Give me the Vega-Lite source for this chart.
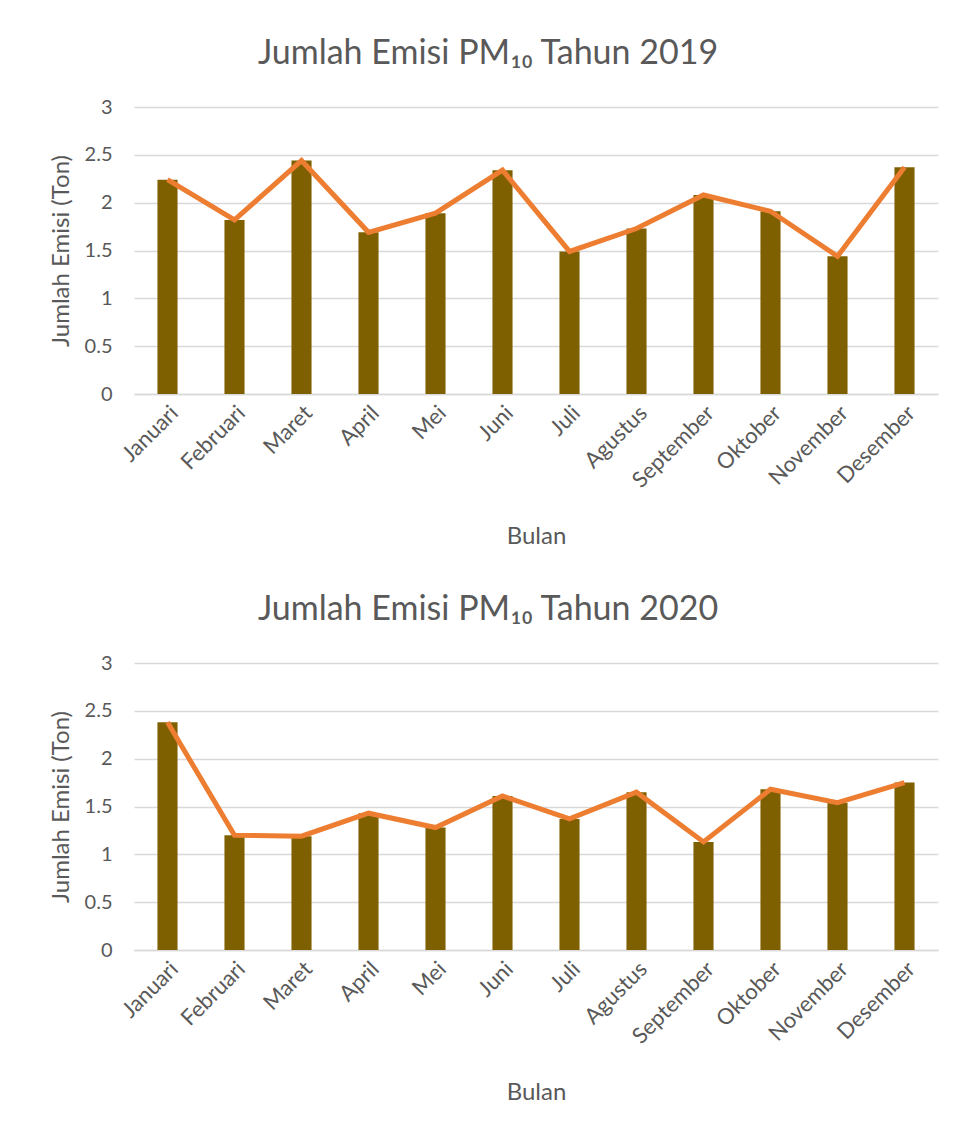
{
  "$schema": "https://vega.github.io/schema/vega-lite/v6.json",
  "background": "white",
  "padding": {"left": 49, "top": 37, "right": 5, "bottom": 5},
  "config": {
    "font": "Lato",
    "view": {"stroke": null},
    "axis": {
      "labelFont": "Lato", "titleFont": "Lato",
      "labelColor": "#595959", "titleColor": "#595959",
      "labelFontSize": 20, "titleFontSize": 24, "titleFontWeight": "normal",
      "gridColor": "#D9D9D9", "gridWidth": 1.5,
      "domainColor": "#D9D9D9", "domainWidth": 1.5,
      "ticks": false
    },
    "title": {"font": "Lato", "fontSize": 34, "fontWeight": "normal", "color": "#595959", "anchor": "middle", "offset": 26, "dx": -48}
  },
  "datasets": {
    "emisi": [
      {"tahun": 2019, "bulan": "Januari", "emisi": 2.24},
      {"tahun": 2019, "bulan": "Februari", "emisi": 1.82},
      {"tahun": 2019, "bulan": "Maret", "emisi": 2.44},
      {"tahun": 2019, "bulan": "April", "emisi": 1.69},
      {"tahun": 2019, "bulan": "Mei", "emisi": 1.89},
      {"tahun": 2019, "bulan": "Juni", "emisi": 2.34},
      {"tahun": 2019, "bulan": "Juli", "emisi": 1.49},
      {"tahun": 2019, "bulan": "Agustus", "emisi": 1.73},
      {"tahun": 2019, "bulan": "September", "emisi": 2.08},
      {"tahun": 2019, "bulan": "Oktober", "emisi": 1.91},
      {"tahun": 2019, "bulan": "November", "emisi": 1.44},
      {"tahun": 2019, "bulan": "Desember", "emisi": 2.37},
      {"tahun": 2020, "bulan": "Januari", "emisi": 2.38},
      {"tahun": 2020, "bulan": "Februari", "emisi": 1.20},
      {"tahun": 2020, "bulan": "Maret", "emisi": 1.19},
      {"tahun": 2020, "bulan": "April", "emisi": 1.43},
      {"tahun": 2020, "bulan": "Mei", "emisi": 1.28},
      {"tahun": 2020, "bulan": "Juni", "emisi": 1.61},
      {"tahun": 2020, "bulan": "Juli", "emisi": 1.37},
      {"tahun": 2020, "bulan": "Agustus", "emisi": 1.65},
      {"tahun": 2020, "bulan": "September", "emisi": 1.13},
      {"tahun": 2020, "bulan": "Oktober", "emisi": 1.68},
      {"tahun": 2020, "bulan": "November", "emisi": 1.54},
      {"tahun": 2020, "bulan": "Desember", "emisi": 1.75}
    ]
  },
  "spacing": 269,
  "bounds": "flush",
  "vconcat": [
    {
      "title": {"text": "Jumlah Emisi PM₁₀ Tahun 2019"},
      "width": 804, "height": 287,
      "data": {"name": "emisi"},
      "transform": [{"filter": "datum.tahun == 2019"}],
      "encoding": {
        "x": {"field": "bulan", "type": "nominal", "title": "Bulan",
          "sort": ["Januari","Februari","Maret","April","Mei","Juni","Juli","Agustus","September","Oktober","November","Desember"],
          "scale": {"paddingInner": 0.7, "paddingOuter": 0.35},
          "axis": {"labelAngle": -45, "labelPadding": 8, "labelFontSize": 22, "titlePadding": 33, "grid": false}},
        "y": {"field": "emisi", "type": "quantitative", "title": "Jumlah Emisi (Ton)",
          "scale": {"domain": [0, 3]},
          "axis": {"values": [0, 0.5, 1, 1.5, 2, 2.5, 3], "format": "~g", "domain": false, "labelPadding": 22, "titlePadding": 11}}
      },
      "layer": [
        {"mark": {"type": "bar", "color": "#7F6000"}},
        {"mark": {"type": "line", "color": "#ED7D31", "strokeWidth": 5}}
      ]
    },
    {
      "title": {"text": "Jumlah Emisi PM₁₀ Tahun 2020"},
      "width": 804, "height": 287,
      "data": {"name": "emisi"},
      "transform": [{"filter": "datum.tahun == 2020"}],
      "encoding": {
        "x": {"field": "bulan", "type": "nominal", "title": "Bulan",
          "sort": ["Januari","Februari","Maret","April","Mei","Juni","Juli","Agustus","September","Oktober","November","Desember"],
          "scale": {"paddingInner": 0.7, "paddingOuter": 0.35},
          "axis": {"labelAngle": -45, "labelPadding": 8, "labelFontSize": 22, "titlePadding": 33, "grid": false}},
        "y": {"field": "emisi", "type": "quantitative", "title": "Jumlah Emisi (Ton)",
          "scale": {"domain": [0, 3]},
          "axis": {"values": [0, 0.5, 1, 1.5, 2, 2.5, 3], "format": "~g", "domain": false, "labelPadding": 22, "titlePadding": 11}}
      },
      "layer": [
        {"mark": {"type": "bar", "color": "#7F6000"}},
        {"mark": {"type": "line", "color": "#ED7D31", "strokeWidth": 5}}
      ]
    }
  ]
}
